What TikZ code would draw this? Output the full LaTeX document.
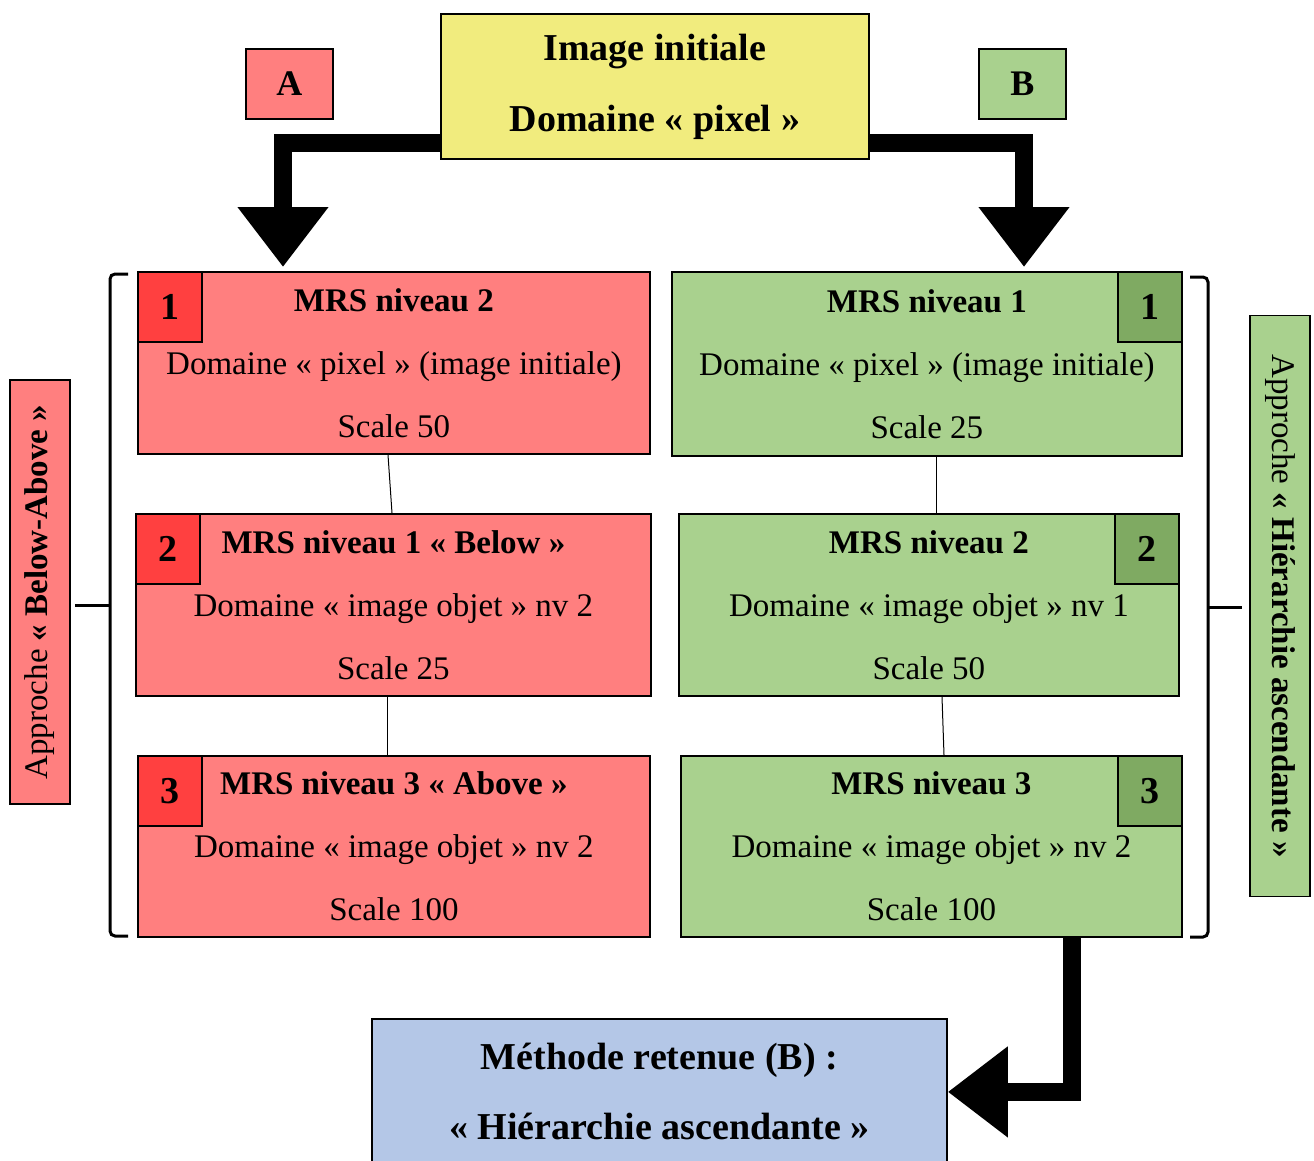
\documentclass[tikz,border=0pt]{standalone}
\usepackage{fontspec}
\setmainfont{Liberation Serif}
\usetikzlibrary{arrows.meta,calc}
\definecolor{rouge}{HTML}{FF7F7F}
\definecolor{rougef}{HTML}{FF4040}
\definecolor{vert}{HTML}{A9D18E}
\definecolor{vertf}{HTML}{7FAA62}
\definecolor{jaune}{HTML}{F1EC7E}
\definecolor{bleu}{HTML}{B4C7E7}

\begin{document}
\begin{tikzpicture}[
	x=1pt, y=-1pt,
	box/.style={draw, line width=1.8pt, anchor=north west, align=center, inner sep=0pt,
		font=\fontsize{33}{63}\selectfont},
	titlebox/.style={box, font=\fontsize{38}{71}\selectfont\bfseries},
	badge/.style={draw, line width=1.8pt, anchor=north west, inner sep=0pt,
		minimum width=64pt, minimum height=70pt, font=\fontsize{38}{40}\selectfont\bfseries},
	sidebox/.style={draw, line width=1.8pt, inner sep=0pt, minimum height=60pt,
		font=\fontsize{33}{40}\selectfont},
	link/.style={line width=1pt},
	brace/.style={line width=3pt, rounded corners=5pt},
	bigarrow/.style={line width=18pt, -{Triangle[width=87pt,length=60pt]}}]
\useasboundingbox (0,0) rectangle (1314,1160);

\node[titlebox, fill=jaune, minimum width=428pt, minimum height=145pt] (Img) at (440,13)
	{Image initiale\\Domaine « pixel »};
\node[titlebox, fill=rouge, minimum width=87pt, minimum height=70pt, font=\fontsize{36}{40}\selectfont\bfseries] (A) at (245,48) {A};
\node[titlebox, fill=vert, minimum width=87pt, minimum height=70pt, font=\fontsize{36}{40}\selectfont\bfseries] (B) at (978,48) {B};

\node[box, fill=rouge, minimum width=512pt, minimum height=182pt] (L1) at (137,271)
	{\textbf{MRS niveau 2}\\Domaine « pixel » (image initiale)\\Scale 50};
\node[box, fill=rouge, minimum width=515pt, minimum height=182pt] (L2) at (135,513)
	{\textbf{MRS niveau 1 « Below »}\\Domaine « image objet » nv 2\\Scale 25};
\node[box, fill=rouge, minimum width=512pt, minimum height=181pt] (L3) at (137,755)
	{\textbf{MRS niveau 3 « Above »}\\Domaine « image objet » nv 2\\Scale 100};
\node[badge, fill=rougef] (L1n) at (L1.north west) {1};
\node[badge, fill=rougef] (L2n) at (L2.north west) {2};
\node[badge, fill=rougef] (L3n) at (L3.north west) {3};

\node[box, fill=vert, minimum width=510pt, minimum height=184pt] (R1) at (671,271)
	{\textbf{MRS niveau 1}\\Domaine « pixel » (image initiale)\\Scale 25};
\node[box, fill=vert, minimum width=500pt, minimum height=182pt] (R2) at (678,513)
	{\textbf{MRS niveau 2}\\Domaine « image objet » nv 1\\Scale 50};
\node[box, fill=vert, minimum width=501pt, minimum height=181pt] (R3) at (680,755)
	{\textbf{MRS niveau 3}\\Domaine « image objet » nv 2\\Scale 100};
\node[badge, fill=vertf, anchor=north east] (R1n) at (R1.north east) {1};
\node[badge, fill=vertf, anchor=north east] (R2n) at (R2.north east) {2};
\node[badge, fill=vertf, anchor=north east] (R3n) at (R3.north east) {3};

\node[titlebox, fill=bleu, minimum width=575pt, minimum height=146pt, font=\fontsize{38}{70}\selectfont\bfseries] (Meth) at (371,1018)
	{Méthode retenue (B) :\\« Hiérarchie ascendante »};

\node[sidebox, fill=rouge, rotate=90, minimum width=424pt] (SideA) at (40,592)
	{Approche \textbf{« Below-Above »}};
\node[sidebox, fill=vert, rotate=-90, minimum width=581pt] (SideB) at (1280,606)
	{Approche \textbf{« Hiérarchie ascendante »}};

\draw[link] ([xshift=251pt]L1.south west) -- ([xshift=257pt]L2.north west);
\draw[link] ([xshift=252pt]L2.south west) -- ([xshift=250pt]L3.north west);
\draw[link] ([xshift=265pt]R1.south west) -- ([xshift=258pt]R2.north west);
\draw[link] ([xshift=264pt]R2.south west) -- ([xshift=264pt]R3.north west);

\draw[brace] (128,274) -- (110,274) -- (110,936) -- (128,936);
\draw[line width=3pt] (110,605) -- (75,605);
\draw[brace] (1190,277) -- (1208,277) -- (1208,937) -- (1190,937);
\draw[line width=3pt] (1208,607) -- (1242,607);

\draw[bigarrow] ([yshift=17pt]Img.south west) -| ([xshift=146pt,yshift=4pt]L1.north west);
\draw[bigarrow] ([yshift=17pt]Img.south east) -| ([xshift=353pt,yshift=4pt]R1.north west);
\draw[bigarrow] ([xshift=392pt]R3.south west) |- (Meth.east);
\end{tikzpicture}
\end{document}
